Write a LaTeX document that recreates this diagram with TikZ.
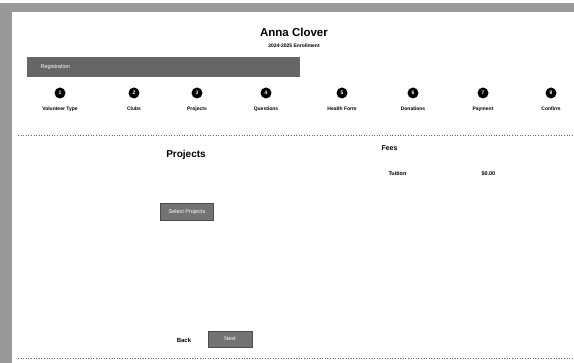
\documentclass[tikz,border=0pt]{standalone}
\usepackage{fontspec}
\setmainfont{Liberation Sans}
\usetikzlibrary{positioning}
\tikzstyle{stepdot} = [circle, fill=black, text=white, inner sep=0pt, minimum size=11pt, font=\fontsize{5}{5}\selectfont\bfseries]
\tikzstyle{steplabel} = [font=\fontsize{5}{6}\selectfont\bfseries]
\tikzstyle{button} = [draw=black!70, fill=black!55, text=white, inner sep=2pt, font=\fontsize{5.5}{6}\selectfont]
\tikzstyle{sep} = [dotted, black!60, line width=.6pt]

\begin{document}
\begin{tikzpicture}[x=1pt, y=-1pt]
      \useasboundingbox (0,0) rectangle (574,363);
      % page frame
      \fill[black!40] (9,3) rectangle (574,12);
      \fill[black!40] (0,3) rectangle (12,363);
      % header
      \node[font=\fontsize{11.5}{14}\selectfont\bfseries] (name) at (294,32) {Anna Clover};
      \node[font=\fontsize{5}{6}\selectfont\bfseries\upshape, below=1pt of name] (term) {2024-2025 Enrollment};
      \fill[black!60] (27,57) rectangle (300,77);
      \node[anchor=west, text=white, font=\fontsize{5.5}{6}\selectfont] (bar) at (37,67) {Registration};
      % steps
      \foreach \n/\x/\t in {1/60/Volunteer Type, 2/134/Clubs, 3/197/Projects, 4/266/Questions,
                            5/342/Health Form, 6/413/Donations, 7/483/Payment, 8/551/Confirm}{
        \node[stepdot] (s\n) at (\x,93) {\n};
        \node[steplabel, below=5pt of s\n] (l\n) {\t};
      }
      \coordinate (sepA) at (18,135);
      \coordinate (sepB) at (574,135);
      \draw[sep] (sepA) -- (sepB);
      % projects
      \node[font=\fontsize{10}{12}\selectfont\bfseries] (proj) at (186,155) {Projects};
      \node[button, minimum width=53pt, minimum height=17pt] (select) at (187,212) {Select Projects};
      % fees
      \node[anchor=west, font=\fontsize{7}{8}\selectfont\bfseries] (fees) at (378,148) {Fees};
      \node[anchor=west, font=\fontsize{5.5}{6}\selectfont\bfseries] (tuit) at (385,174) {Tuition};
      \node[anchor=west, font=\fontsize{5.5}{6}\selectfont\bfseries] (cost) at (478,174) {\$0.00};
      % footer
      \node[font=\fontsize{6}{7}\selectfont\bfseries] (back) at (184,340) {Back};
      \node[button, minimum width=44pt, minimum height=16pt] (next) at (230,339) {Next};
      \coordinate (botA) at (18,358);
      \coordinate (botB) at (574,358);
      \draw[sep] (botA) -- (botB);
    \end{tikzpicture}
\end{document}
